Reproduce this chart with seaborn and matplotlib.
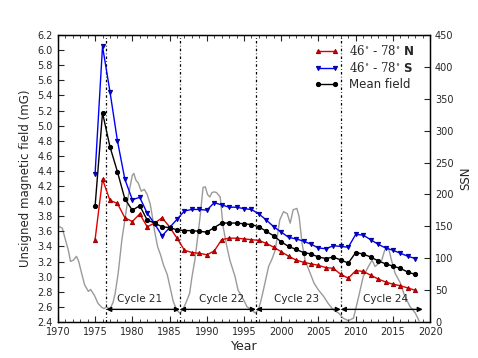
import numpy as np
import pandas as pd
import matplotlib
matplotlib.use("Agg")
import matplotlib.pyplot as plt
from matplotlib.ticker import MultipleLocator
import seaborn as sns

# ---------------- data ----------------
years = list(range(1975, 2019))
north = [3.49, 4.29, 4.01, 3.97, 3.78, 3.73, 3.83, 3.66, 3.71, 3.78,
         3.66, 3.51, 3.35, 3.32, 3.31, 3.29, 3.34, 3.49, 3.51, 3.51,
         3.50, 3.49, 3.48, 3.44, 3.39, 3.33, 3.27, 3.22, 3.19, 3.17,
         3.15, 3.12, 3.11, 3.03, 2.98, 3.08, 3.07, 3.02, 2.97, 2.93,
         2.90, 2.88, 2.85, 2.82]
south = [4.36, 6.05, 5.45, 4.80, 4.29, 4.02, 4.05, 3.84, 3.70, 3.54,
         3.65, 3.76, 3.87, 3.89, 3.89, 3.88, 3.98, 3.95, 3.92, 3.92,
         3.90, 3.89, 3.83, 3.75, 3.66, 3.59, 3.52, 3.50, 3.47, 3.43,
         3.38, 3.37, 3.41, 3.40, 3.39, 3.56, 3.55, 3.49, 3.43, 3.38,
         3.35, 3.31, 3.27, 3.24]
mean_field = [3.93, 5.17, 4.72, 4.39, 4.03, 3.88, 3.94, 3.75, 3.71, 3.66,
              3.65, 3.62, 3.61, 3.61, 3.60, 3.59, 3.65, 3.71, 3.71, 3.71,
              3.70, 3.69, 3.66, 3.60, 3.54, 3.46, 3.40, 3.36, 3.32, 3.30,
              3.26, 3.24, 3.26, 3.22, 3.18, 3.32, 3.30, 3.26, 3.21, 3.17,
              3.14, 3.11, 3.06, 3.03]

ssn_t = [1970.0, 1970.3, 1970.6, 1970.9, 1971.4, 1971.7, 1972.1, 1972.5, 1972.8, 1973.2,
         1973.6, 1974.1, 1974.4, 1974.9, 1975.4, 1975.9, 1976.2, 1976.5, 1977.0, 1977.4,
         1977.7, 1978.1, 1978.6, 1979.0, 1979.5, 1980.0, 1980.2, 1980.5, 1980.8, 1981.2,
         1981.6, 1982.0, 1982.4, 1982.7, 1983.0, 1983.4, 1983.8, 1984.2, 1984.7, 1985.1,
         1985.5, 1986.0, 1986.4, 1986.8, 1987.2, 1987.7, 1988.0, 1988.4, 1988.8, 1989.1,
         1989.5, 1989.8, 1990.1, 1990.4, 1990.7, 1991.0, 1991.3, 1991.8, 1992.2, 1992.7,
         1993.1, 1993.8, 1994.2, 1994.7, 1995.4, 1996.0, 1996.5, 1996.9, 1997.2, 1997.6,
         1998.3, 1998.8, 1999.2, 1999.8, 2000.3, 2000.8, 2001.2, 2001.6, 2002.1, 2002.4,
         2002.8, 2003.2, 2003.9, 2004.4, 2005.0, 2005.7, 2006.3, 2007.0, 2007.7, 2008.3,
         2009.0, 2009.7, 2010.4, 2011.0, 2011.7, 2012.2, 2012.6, 2013.1, 2013.5, 2013.9,
         2014.4, 2014.8, 2015.3, 2016.0, 2016.6, 2017.3, 2018.0, 2018.5]
ssn_v = [150, 149, 147, 134, 113, 95, 97, 103, 95, 76,
         58, 48, 51, 42, 29, 23, 21, 23, 21, 30,
         45, 76, 129, 160, 200, 230, 233, 222, 218, 205,
         208, 200, 185, 165, 142, 118, 105, 89, 74, 53,
         32, 18, 14, 20, 30, 45, 70, 97, 135, 165,
         211, 212, 200, 196, 203, 204, 203, 196, 149, 118,
         97, 71, 50, 40, 24, 19, 14, 19, 30, 50,
         87, 100, 113, 160, 173, 170, 155, 176, 178, 165,
         123, 97, 76, 61, 50, 40, 29, 19, 14, 6,
         2, 6, 40, 71, 87, 97, 87, 92, 97, 113,
         116, 97, 76, 61, 40, 24, 14, 2]

cycle_min = [1976.5, 1986.4, 1996.6, 2008.0]
cycle_end = 2019.0
cycle_names = ["Cycle 21", "Cycle 22", "Cycle 23", "Cycle 24"]
cycle_label_x = [1981.0, 1992.0, 2002.0, 2014.0]

# ---------------- style ----------------
sns.set_style("ticks")
plt.rcParams["font.family"] = ["DejaVu Sans"]
plt.rcParams["mathtext.fontset"] = "custom"
plt.rcParams["mathtext.rm"] = "DejaVu Serif"
plt.rcParams["mathtext.bf"] = "DejaVu Sans:bold"

fig = plt.figure(figsize=(4.78, 3.58), dpi=100)
ax = fig.add_axes([0.121, 0.1006, 0.779, 0.8016])
ax2 = ax.twinx()
ax.set_zorder(ax2.get_zorder() + 1)
ax.patch.set_visible(False)

df = pd.DataFrame({"year": years, "north": north, "south": south, "mean": mean_field})
ssn_df = pd.DataFrame({"t": ssn_t, "ssn": ssn_v})

sns.lineplot(data=ssn_df, x="t", y="ssn", ax=ax2, color="#9a9a9a", lw=1.0, legend=False)

lab_n = r"$\mathrm{46^{\circ}}$ - $\mathrm{78^{\circ}}$ $\mathbf{N}$"
lab_s = r"$\mathrm{46^{\circ}}$ - $\mathrm{78^{\circ}}$ $\mathbf{S}$"
sns.lineplot(data=df, x="year", y="north", ax=ax, color="#e00000", lw=1.0,
             marker="^", markersize=3.0, markeredgecolor="#990000", label=lab_n)
sns.lineplot(data=df, x="year", y="south", ax=ax, color="#0000ff", lw=1.0,
             marker="v", markersize=3.0, markeredgecolor="#000099", label=lab_s)
sns.lineplot(data=df, x="year", y="mean", ax=ax, color="black", lw=1.0,
             marker="o", markersize=3.0, markeredgecolor="black", label="Mean field")

for xm in cycle_min:
    ax.axvline(xm, color="black", lw=0.9, ls=(0, (2.0, 1.8, 0.6, 1.8)), zorder=1)

bounds = cycle_min + [cycle_end]
arrow_y = 2.567
for i in range(len(cycle_names)):
    ax.annotate("", xy=(bounds[i + 1], arrow_y), xytext=(bounds[i], arrow_y),
                arrowprops=dict(arrowstyle="<|-|>", color="black", lw=1.0,
                                mutation_scale=7, shrinkA=0, shrinkB=0))
    ax.text(cycle_label_x[i], 2.70, cycle_names[i], ha="center", va="center", fontsize=7.5)

ax.set_xlim(1970, 2020)
ax.set_ylim(2.4, 6.2)
ax2.set_ylim(0, 450)
ax.xaxis.set_major_locator(MultipleLocator(5))
ax.xaxis.set_minor_locator(MultipleLocator(1))
ax.yaxis.set_major_locator(MultipleLocator(0.2))
ax2.yaxis.set_major_locator(MultipleLocator(50))
ax.yaxis.set_major_formatter(matplotlib.ticker.FormatStrFormatter("%.1f"))

ax.tick_params(axis="both", which="both", direction="in", labelsize=7, top=True)
ax.tick_params(axis="both", which="major", length=4, width=0.8)
ax.tick_params(axis="x", which="minor", length=2, width=0.6)
ax2.tick_params(axis="y", direction="in", labelsize=7, length=4, width=0.8)

ax.set_xlabel("Year", fontsize=9, labelpad=2)
ax.set_ylabel("Unsigned magnetic field (mG)", fontsize=8.5, labelpad=4)
ax2.set_ylabel("SSN", fontsize=8.5, labelpad=4)

for a in (ax, ax2):
    for s in a.spines.values():
        s.set_linewidth(0.9)
        s.set_color("black")

leg = ax.legend(loc="upper right", bbox_to_anchor=(0.985, 1.005), frameon=False,
                numpoints=2, handlelength=2.0, fontsize=8.5, labelspacing=0.25,
                handletextpad=0.9)

fig.savefig("out.png", dpi=100)
